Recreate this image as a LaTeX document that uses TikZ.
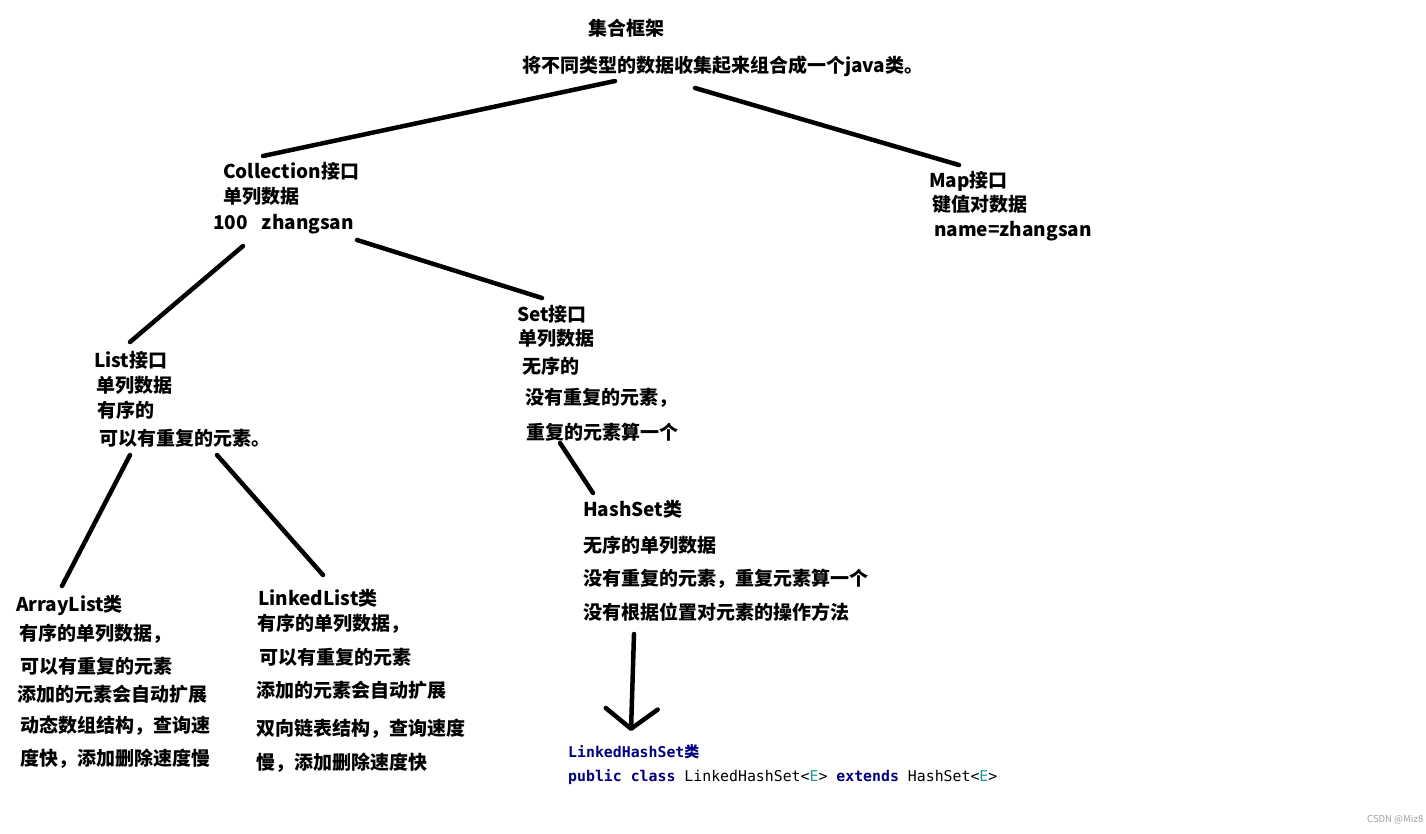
\documentclass[tikz,border=0pt]{standalone}
\usepackage{fontspec}
\setmainfont{Noto Sans CJK SC}
\newfontfamily\codefont{DejaVu Sans Mono}
\usetikzlibrary{arrows.meta}
\definecolor{keyword}{HTML}{000080}
\definecolor{typevar}{HTML}{20999D}
\definecolor{watermark}{HTML}{A0A0A0}
\tikzset{
	txt/.style = {% one line of a note
		anchor=base west,
		inner sep=0pt,
		font=\bfseries\fontsize{19}{21}\selectfont,
	},
	code/.style = {% java source line
		anchor=base west,
		inner sep=0pt,
		font=\codefont\fontsize{14.85}{17}\selectfont,
	},
	stroke/.style = {% hand drawn line
		line width=4.5pt,
		line cap=round,
	}
}

\begin{document}
\begin{tikzpicture}[x=1pt,y=-1pt]
	\useasboundingbox[fill=white] (0,0) rectangle (1426,833);
	% top: the framework
	\node[txt] (title) at (588,35) {集合框架};
	\node[txt] (desc) at (522,72) {将不同类型的数据收集起来组合成一个java类。};
	% the two interfaces
	\foreach \t/\x/\y [count=\i] in {Collection接口/223/178, 单列数据/223/203,
		{100\hspace{14pt}zhangsan}/213/229}
		\node[txt] (coll\i) at (\x,\y) {\t};
	\foreach \t/\x/\y [count=\i] in {Map接口/929/187, 键值对数据/932/211,
		name=zhangsan/934/236}
		\node[txt] (map\i) at (\x,\y) {\t};
	% below Collection
	\foreach \t/\x/\y [count=\i] in {List接口/94/367, 单列数据/96/392,
		有序的/97/417, 可以有重复的元素。/99/445}
		\node[txt] (list\i) at (\x,\y) {\t};
	\foreach \t/\x/\y [count=\i] in {Set接口/517/321, 单列数据/518/345,
		无序的/522/373, 没有重复的元素，/525/404, 重复的元素算一个/526/439}
		\node[txt] (set\i) at (\x,\y) {\t};
	% the classes
	\foreach \t/\x/\y [count=\i] in {ArrayList类/16/611, 有序的单列数据，/19/640,
		可以有重复的元素/20/673, 添加的元素会自动扩展/17/701,
		动态数组结构，查询速/20/732, 度快，添加删除速度慢/20/765}
		\node[txt] (alist\i) at (\x,\y) {\t};
	\foreach \t/\x/\y [count=\i] in {LinkedList类/258/605, 有序的单列数据，/257/630,
		可以有重复的元素/259/664, 添加的元素会自动扩展/256/697,
		双向链表结构，查询速度/256/735, 慢，添加删除速度快/256/769}
		\node[txt] (llist\i) at (\x,\y) {\t};
	\foreach \t/\x/\y [count=\i] in {HashSet类/583/516, 无序的单列数据/583/552,
		没有重复的元素，重复元素算一个/583/585, 没有根据位置对元素的操作方法/583/619}
		\node[txt] (hash\i) at (\x,\y) {\t};
	% java declaration
	\node[code, text=keyword] (lhs1) at (568,757)
		{\bfseries LinkedHashSet{\normalfont\bfseries\fontsize{15}{17}\selectfont 类}};
	\node[code] (lhs2) at (568,781)
		{\textcolor{keyword}{\bfseries public class} LinkedHashSet<\textcolor{typevar}{E}>
		\textcolor{keyword}{\bfseries extends} HashSet<\textcolor{typevar}{E}>};
	\node[anchor=base west, inner sep=0pt, text=watermark,
		font=\fontsize{9.5}{10}\selectfont] (mark) at (1367,822) {CSDN @Miz8};
	% line ends
	\coordinate (r-c) at (615,81);   \coordinate (c-r) at (263,156);
	\coordinate (r-m) at (695,88);   \coordinate (m-r) at (959,165);
	\coordinate (c-l) at (243,246);  \coordinate (l-c) at (130,342);
	\coordinate (c-s) at (357,240);  \coordinate (s-c) at (542,298);
	\coordinate (l-a) at (130,455);  \coordinate (a-l) at (62,586);
	\coordinate (l-k) at (217,455);  \coordinate (k-l) at (323,575);
	\coordinate (s-h) at (560,443);  \coordinate (h-s) at (593,493);
	\coordinate (h-x) at (634,634);  \coordinate (x-h) at (631,731);
	\draw[stroke] (r-c) -- (c-r);
	\draw[stroke] (r-m) -- (m-r);
	\draw[stroke] (c-l) -- (l-c);
	\draw[stroke] (c-s) -- (s-c);
	\draw[stroke] (l-a) -- (a-l);
	\draw[stroke] (l-k) -- (k-l);
	\draw[stroke] (s-h) -- (h-s);
	\draw[stroke, -{Straight Barb[length=20pt, width=52pt, round]}] (h-x) -- (x-h);
\end{tikzpicture}
\end{document}
